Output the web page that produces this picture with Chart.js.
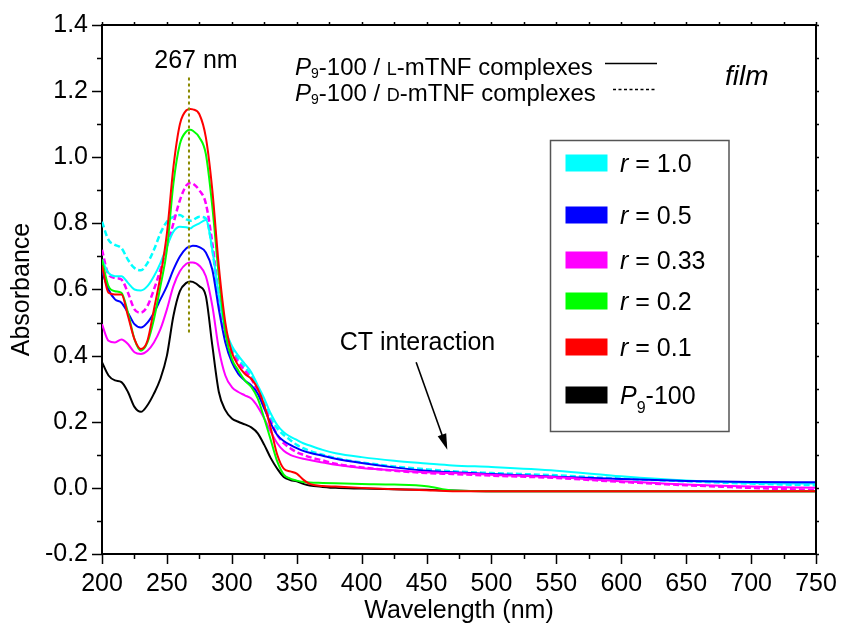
<!DOCTYPE html>
<html>
<head>
<meta charset="utf-8">
<title>Absorbance spectra - film</title>
<script src="https://cdn.jsdelivr.net/npm/chart.js@4.4.1/dist/chart.umd.min.js"></script>
<style>
    html, body { margin: 0; padding: 0; background: #fff; }
    .chart-wrap { position: relative; width: 842px; height: 634px; }
</style>
</head>
<body>
<div class="chart-wrap"><canvas id="spectraChart"></canvas></div>
<script>
// wavelength grid (nm) shared by all spectra
var wavelength = [200, 205, 210, 215, 220, 225, 230, 235, 240, 245, 250, 255, 260, 265, 268, 270, 275, 280,
    285, 290, 295, 300, 305, 310, 315, 320, 325, 330, 335, 340, 345, 350, 355, 360,
    370, 380, 400, 425, 450, 470, 500, 550, 600, 650, 700, 750];

// P9-100 / L-mTNF complexes (solid lines)
var absR01 = [0.672, 0.59, 0.585, 0.585, 0.52, 0.45, 0.42, 0.445, 0.54, 0.64, 0.77, 0.97, 1.10, 1.142, 1.146, 1.145, 1.13, 1.06,
    0.90, 0.67, 0.50, 0.41, 0.37, 0.345, 0.33, 0.30, 0.25, 0.18, 0.10, 0.058, 0.05, 0.043, 0.025, 0.012,
    0.006, 0.004, 0.0, -0.004, -0.007, -0.01, -0.01, -0.01, -0.01, -0.01, -0.01, -0.01];
var absR02 = [0.69, 0.61, 0.595, 0.59, 0.53, 0.45, 0.415, 0.44, 0.51, 0.61, 0.72, 0.92, 1.04, 1.078, 1.083, 1.08, 1.06, 1.01,
    0.85, 0.64, 0.47, 0.39, 0.355, 0.325, 0.305, 0.27, 0.21, 0.145, 0.08, 0.04, 0.028, 0.022, 0.018, 0.016,
    0.015, 0.014, 0.012, 0.01, 0.005, -0.008, -0.01, -0.01, -0.01, -0.01, -0.01, -0.01];
var absR033 = [0.495, 0.445, 0.44, 0.449, 0.435, 0.41, 0.405, 0.415, 0.44, 0.48, 0.54, 0.61, 0.655, 0.678, 0.682, 0.682, 0.672, 0.64,
    0.55, 0.42, 0.34, 0.305, 0.29, 0.28, 0.27, 0.245, 0.21, 0.17, 0.135, 0.112, 0.1, 0.093, 0.088, 0.084,
    0.077, 0.07, 0.06, 0.053, 0.047, 0.045, 0.04, 0.032, 0.02, 0.01, 0.004, 0.0];
var absR05 = [0.655, 0.60, 0.57, 0.56, 0.53, 0.495, 0.485, 0.50, 0.53, 0.57, 0.61, 0.66, 0.70, 0.725, 0.73, 0.732, 0.728, 0.712,
    0.66, 0.54, 0.44, 0.38, 0.345, 0.325, 0.31, 0.285, 0.24, 0.195, 0.16, 0.142, 0.13, 0.12, 0.112, 0.106,
    0.097, 0.088, 0.075, 0.062, 0.052, 0.047, 0.042, 0.034, 0.027, 0.021, 0.018, 0.017];
var absR10 = [0.69, 0.65, 0.64, 0.64, 0.62, 0.60, 0.597, 0.61, 0.64, 0.68, 0.73, 0.775, 0.79, 0.788, 0.785, 0.79, 0.80, 0.81,
    0.72, 0.58, 0.48, 0.43, 0.40, 0.375, 0.35, 0.31, 0.27, 0.225, 0.19, 0.168, 0.155, 0.145, 0.135, 0.128,
    0.115, 0.105, 0.093, 0.082, 0.074, 0.068, 0.063, 0.052, 0.035, 0.022, 0.015, 0.013];
var absP9 = [0.38, 0.34, 0.325, 0.32, 0.29, 0.245, 0.23, 0.25, 0.285, 0.33, 0.40, 0.52, 0.595, 0.62, 0.624, 0.623, 0.61, 0.58,
    0.43, 0.29, 0.235, 0.21, 0.20, 0.192, 0.183, 0.165, 0.13, 0.09, 0.058, 0.033, 0.024, 0.02, 0.012, 0.007,
    0.003, 0.0, -0.002, -0.004, -0.006, -0.008, -0.01, -0.01, -0.01, -0.01, -0.01, -0.01];

// P9-100 / D-mTNF complexes (dashed lines)
var absDR033 = [0.72, 0.645, 0.635, 0.63, 0.59, 0.54, 0.53, 0.55, 0.60, 0.66, 0.73, 0.80, 0.87, 0.915, 0.922, 0.92, 0.90, 0.86,
    0.74, 0.58, 0.46, 0.41, 0.38, 0.355, 0.33, 0.29, 0.245, 0.20, 0.16, 0.135, 0.12, 0.108, 0.10, 0.093,
    0.083, 0.073, 0.062, 0.052, 0.045, 0.042, 0.037, 0.03, 0.018, 0.008, 0.0, -0.007];
var absDR10 = [0.805, 0.75, 0.735, 0.725, 0.69, 0.665, 0.658, 0.68, 0.72, 0.77, 0.805, 0.82, 0.825, 0.812, 0.808, 0.81, 0.82, 0.815,
    0.72, 0.57, 0.47, 0.42, 0.39, 0.365, 0.34, 0.30, 0.255, 0.21, 0.18, 0.16, 0.145, 0.13, 0.12, 0.112,
    0.10, 0.09, 0.077, 0.065, 0.056, 0.05, 0.045, 0.038, 0.028, 0.02, 0.013, 0.008];

var legendLabels = ['1.0', '0.5', '0.33', '0.2', '0.1'];
var legendColors = ['#00ffff', '#0000ff', '#ff00ff', '#00ff00', '#ff0000'];

var peakWavelength = 267;
var peakMarkerRange = [0.47, 1.245];
var arrowFrom = [442, 0.38];
var arrowTo = [466, 0.115];
var ctLabelAt = [443, 0.437];

var FONT = '"Liberation Sans", Arial, sans-serif';
function font(size, style) { return (style ? style + ' ' : '') + size + 'px ' + FONT; }

function points(ys) {
    return wavelength.map(function(x, i) { return { x: x, y: ys[i] }; });
}

function line(ys, color, dashed) {
    return {
        data: points(ys),
        borderColor: color,
        borderWidth: dashed ? 2.5 : 2,
        borderDash: dashed ? [6, 3] : [],
        pointRadius: 0,
        fill: false,
        cubicInterpolationMode: 'monotone'
    };
}

function drawRich(ctx, parts, x, y) {
    parts.forEach(function(p) {
        ctx.font = p.font;
        ctx.fillText(p.text, x, y + (p.dy || 0));
        x += ctx.measureText(p.text).width;
    });
    return x;
}

var annotate = {
    id: 'annotate',
    afterDatasetsDraw: function(chart) {
        var ctx = chart.ctx, xs = chart.scales.x, ys = chart.scales.y;
        var px = xs.getPixelForValue(peakWavelength);
        ctx.save();
        ctx.strokeStyle = '#8a8a00';
        ctx.lineWidth = 2;
        ctx.setLineDash([3, 3]);
        ctx.beginPath();
        ctx.moveTo(px, ys.getPixelForValue(peakMarkerRange[0]));
        ctx.lineTo(px, ys.getPixelForValue(peakMarkerRange[1]));
        ctx.stroke();
        ctx.restore();
    },
    afterDraw: function(chart) {
        var ctx = chart.ctx, xs = chart.scales.x, ys = chart.scales.y;
        var ca = chart.chartArea;
        var v, p, i;
        ctx.save();
        ctx.strokeStyle = '#000';
        ctx.fillStyle = '#000';

        // top and right frame
        ctx.lineWidth = 2;
        ctx.beginPath();
        ctx.moveTo(ca.left - 1, ca.top);
        ctx.lineTo(ca.right, ca.top);
        ctx.lineTo(ca.right, ca.bottom + 1);
        ctx.stroke();

        // ticks
        ctx.lineWidth = 1.5;
        ctx.beginPath();
        for (i = 0; i <= 16; i++) {
            v = -0.2 + i * 0.1;
            p = Math.round(ys.getPixelForValue(v)) + 0.5;
            ctx.moveTo(ca.left, p); ctx.lineTo(ca.left - (i % 2 === 0 ? 10 : 5), p);
            ctx.moveTo(ca.right, p); ctx.lineTo(ca.right + 3, p);
        }
        for (i = 0; i <= 22; i++) {
            v = 200 + i * 25;
            p = Math.round(xs.getPixelForValue(v)) + 0.5;
            ctx.moveTo(p, ca.bottom); ctx.lineTo(p, ca.bottom + (i % 2 === 0 ? 10 : 5));
            ctx.moveTo(p, ca.top); ctx.lineTo(p, ca.top - 3);
        }
        ctx.stroke();

        // 267 nm label
        ctx.textAlign = 'center';
        ctx.textBaseline = 'alphabetic';
        ctx.font = font(25);
        ctx.fillText(peakWavelength + ' nm', xs.getPixelForValue(peakWavelength) + 7, 68);

        // CT interaction label and arrow
        ctx.textBaseline = 'middle';
        ctx.fillText('CT interaction', xs.getPixelForValue(ctLabelAt[0]), ys.getPixelForValue(ctLabelAt[1]));
        var x0 = xs.getPixelForValue(arrowFrom[0]), y0 = ys.getPixelForValue(arrowFrom[1]);
        var x1 = xs.getPixelForValue(arrowTo[0]), y1 = ys.getPixelForValue(arrowTo[1]);
        var ang = Math.atan2(y1 - y0, x1 - x0);
        ctx.lineWidth = 1.6;
        ctx.beginPath();
        ctx.moveTo(x0, y0);
        ctx.lineTo(x1 - 12 * Math.cos(ang), y1 - 12 * Math.sin(ang));
        ctx.stroke();
        ctx.beginPath();
        ctx.moveTo(x1, y1);
        ctx.lineTo(x1 - 16 * Math.cos(ang) + 4.5 * Math.sin(ang), y1 - 16 * Math.sin(ang) - 4.5 * Math.cos(ang));
        ctx.lineTo(x1 - 16 * Math.cos(ang) - 4.5 * Math.sin(ang), y1 - 16 * Math.sin(ang) + 4.5 * Math.cos(ang));
        ctx.closePath();
        ctx.fill();

        // line-style key
        ctx.textAlign = 'left';
        ctx.textBaseline = 'alphabetic';
        [['L', 75, []], ['D', 101, [3, 2.5]]].forEach(function(row) {
            drawRich(ctx, [
                { text: 'P', font: font(24, 'italic') },
                { text: '9', font: font(14), dy: 3 },
                { text: '-100 / ', font: font(24) },
                { text: row[0], font: font(18) },
                { text: '-mTNF complexes', font: font(24) }
            ], 295, row[1]);
            ctx.lineWidth = 1.5;
            ctx.setLineDash(row[2]);
            ctx.beginPath();
            ctx.moveTo(row[2].length ? 613 : 605, row[1] - 11.5);
            ctx.lineTo(657, row[1] - 11.5);
            ctx.stroke();
            ctx.setLineDash([]);
        });
        ctx.font = font(28, 'italic');
        ctx.fillText('film', 725, 85);

        // colour legend box
        ctx.strokeStyle = '#555';
        ctx.lineWidth = 1.5;
        ctx.strokeRect(550.5, 140.5, 178.5, 291);
        var rowY = [163, 215, 260, 301, 347, 395];
        for (i = 0; i < 6; i++) {
            var cy = rowY[i];
            ctx.fillStyle = i < 5 ? legendColors[i] : '#000';
            ctx.fillRect(565.5, cy - 8.5, 42, 17);
            ctx.fillStyle = '#000';
            if (i < 5) {
                drawRich(ctx, [
                    { text: 'r', font: font(25, 'italic') },
                    { text: ' = ' + legendLabels[i], font: font(25) }
                ], 620, cy + 9);
            } else {
                drawRich(ctx, [
                    { text: 'P', font: font(25, 'italic') },
                    { text: '9', font: font(16), dy: 9 },
                    { text: '-100', font: font(25) }
                ], 620, cy + 9);
            }
        }
        ctx.restore();
    }
};

Chart.defaults.font.family = FONT;
Chart.defaults.color = '#000';

new Chart(document.getElementById('spectraChart').getContext('2d'), {
    type: 'line',
    data: {
        datasets: [
            line(absR01, '#ff0000', false),
            line(absR02, '#00ff00', false),
            line(absR033, '#ff00ff', false),
            line(absR05, '#0000ff', false),
            line(absR10, '#00ffff', false),
            line(absDR033, '#ff00ff', true),
            line(absDR10, '#00ffff', true),
            line(absP9, '#000000', false)
        ]
    },
    options: {
        responsive: true,
        maintainAspectRatio: false,
        animation: false,
        layout: { padding: { top: 25, right: 26, left: 0, bottom: 0 } },
        plugins: {
            legend: { display: false },
            tooltip: { enabled: false }
        },
        scales: {
            x: {
                type: 'linear',
                min: 200,
                max: 750,
                ticks: { stepSize: 50, font: { size: 25 }, padding: 15, maxRotation: 0, autoSkip: false },
                grid: { display: false, drawTicks: false },
                border: { color: '#000', width: 2 },
                title: { display: true, text: 'Wavelength (nm)', font: { size: 25 }, padding: { top: 0, bottom: 8 } },
                afterFit: function(scale) {
                    scale.height = 80;
                    scale.paddingLeft = 0;
                    scale.paddingRight = 0;
                }
            },
            y: {
                min: -0.2,
                max: 1.4,
                ticks: {
                    stepSize: 0.2,
                    font: { size: 25 },
                    padding: 14,
                    callback: function(v) { return (Math.abs(v) < 1e-9 ? 0 : v).toFixed(1); }
                },
                grid: { display: false, drawTicks: false },
                border: { color: '#000', width: 2 },
                title: { display: true, text: 'Absorbance', font: { size: 25 }, padding: { top: 7, bottom: 0 } },
                afterFit: function(scale) {
                    scale.width = 102;
                    scale.paddingTop = 0;
                    scale.paddingBottom = 0;
                }
            }
        }
    },
    plugins: [annotate]
});
</script>
</body>
</html>
